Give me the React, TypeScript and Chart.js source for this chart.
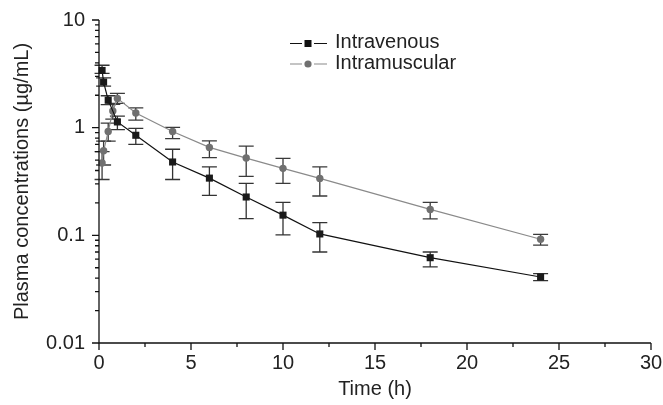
import React, { useEffect, useRef } from "react";
import { Chart, registerables } from "chart.js";

Chart.register(...registerables);

// ---- Data ----
const timeIV = [0.167, 0.25, 0.5, 1, 2, 4, 6, 8, 10, 12, 18, 24];
const ivMean = [3.4, 2.65, 1.8, 1.13, 0.85, 0.48, 0.34, 0.227, 0.154, 0.103, 0.062, 0.041];
const ivLow = [3.2, 2.43, 1.64, 0.96, 0.7, 0.33, 0.235, 0.143, 0.101, 0.07, 0.051, 0.038];
const ivHigh = [3.8, 2.9, 1.98, 1.28, 0.985, 0.63, 0.433, 0.304, 0.202, 0.131, 0.07, 0.044];

const timeIM = [0.167, 0.25, 0.5, 0.75, 1, 2, 4, 6, 8, 10, 12, 18, 24];
const imMean = [0.47, 0.61, 0.92, 1.43, 1.87, 1.37, 0.92, 0.656, 0.522, 0.419, 0.338, 0.174, 0.092];
const imLow = [0.33, 0.45, 0.75, 1.2, 1.68, 1.175, 0.79, 0.526, 0.353, 0.304, 0.232, 0.142, 0.081];
const imHigh = [0.6, 0.75, 1.1, 1.65, 2.08, 1.53, 1.007, 0.755, 0.675, 0.519, 0.433, 0.202, 0.102];

const xTicks = [0, 5, 10, 15, 20, 25, 30];
const xMinorTicks = [2.5, 7.5, 12.5, 17.5, 22.5, 27.5];
const yTicks = [0.01, 0.1, 1, 10];

const seriesNames = ["Intravenous", "Intramuscular"];

const FONT = "'Liberation Sans', Arial, Helvetica, sans-serif";
const TEXT = "#222";

const errorBars = [
  { t: timeIV, lo: ivLow, hi: ivHigh, color: "#333" },
  { t: timeIM, lo: imLow, hi: imHigh, color: "#3a3a3a" },
];

const customPlugin = {
  id: "customDecor",
  beforeDatasetsDraw(chart: any) {
    const ctx = chart.ctx;
    const xs = chart.scales.x;
    const ys = chart.scales.y;
    ctx.save();
    ctx.lineWidth = 1.3;
    for (const eb of errorBars) {
      ctx.strokeStyle = eb.color;
      eb.t.forEach((t: number, i: number) => {
        const px = xs.getPixelForValue(t);
        const pLo = ys.getPixelForValue(eb.lo[i]);
        const pHi = ys.getPixelForValue(eb.hi[i]);
        ctx.beginPath();
        ctx.moveTo(px, pLo);
        ctx.lineTo(px, pHi);
        ctx.moveTo(px - 7.5, pLo);
        ctx.lineTo(px + 7.5, pLo);
        ctx.moveTo(px - 7.5, pHi);
        ctx.lineTo(px + 7.5, pHi);
        ctx.stroke();
      });
    }
    ctx.restore();
  },
  afterDraw(chart: any) {
    const ctx = chart.ctx;
    const { left, right, top, bottom } = chart.chartArea;
    const xs = chart.scales.x;
    const ys = chart.scales.y;
    ctx.save();
    ctx.strokeStyle = "#111";
    ctx.lineWidth = 1.3;
    // axis lines
    ctx.beginPath();
    ctx.moveTo(left, top);
    ctx.lineTo(left, bottom);
    ctx.lineTo(right, bottom);
    ctx.stroke();
    // x ticks
    ctx.beginPath();
    for (const v of xTicks) {
      const px = xs.getPixelForValue(v);
      ctx.moveTo(px, bottom);
      ctx.lineTo(px, bottom + 7);
    }
    for (const v of xMinorTicks) {
      const px = xs.getPixelForValue(v);
      ctx.moveTo(px, bottom);
      ctx.lineTo(px, bottom + 4);
    }
    // y ticks
    for (const v of yTicks) {
      const py = ys.getPixelForValue(v);
      ctx.moveTo(left, py);
      ctx.lineTo(left - 7, py);
    }
    for (let d = 0; d < yTicks.length - 1; d++) {
      for (let m = 2; m <= 9; m++) {
        const py = ys.getPixelForValue(yTicks[d] * m);
        ctx.moveTo(left, py);
        ctx.lineTo(left - 4, py);
      }
    }
    ctx.stroke();

    // legend
    const rows = [
      { y: 43.5, color: "#111", line: "#111", shape: "rect" },
      { y: 64, color: "#707070", line: "#8a8a8a", shape: "circle" },
    ];
    rows.forEach((r, i) => {
      ctx.strokeStyle = r.line;
      ctx.lineWidth = 1.2;
      ctx.beginPath();
      ctx.moveTo(290, r.y);
      ctx.lineTo(302, r.y);
      ctx.moveTo(314, r.y);
      ctx.lineTo(327, r.y);
      ctx.stroke();
      ctx.fillStyle = r.color;
      if (r.shape === "rect") {
        ctx.fillRect(308 - 3.5, r.y - 3.5, 7, 7);
      } else {
        ctx.beginPath();
        ctx.arc(308, r.y, 3.6, 0, Math.PI * 2);
        ctx.fill();
      }
      ctx.fillStyle = TEXT;
      ctx.font = `20px ${FONT}`;
      ctx.textAlign = "left";
      ctx.textBaseline = "middle";
      ctx.fillText(seriesNames[i], 335, r.y - 1);
    });
    ctx.restore();
  },
};

export default function App() {
  const ref = useRef<HTMLCanvasElement | null>(null);

  useEffect(() => {
    document.body.style.margin = "0";
    const canvas = ref.current;
    if (!canvas) return;
    const chart = new Chart(canvas, {
      type: "scatter",
      data: {
        datasets: [
          {
            label: seriesNames[0],
            data: timeIV.map((t, i) => ({ x: t, y: ivMean[i] })),
            showLine: true,
            borderColor: "#111",
            borderWidth: 1.2,
            backgroundColor: "#1a1a1a",
            pointBackgroundColor: "#1a1a1a",
            pointBorderColor: "#1a1a1a",
            pointBorderWidth: 0,
            pointStyle: "rect",
            pointRadius: 5,
            clip: false,
          },
          {
            label: seriesNames[1],
            data: timeIM.map((t, i) => ({ x: t, y: imMean[i] })),
            showLine: true,
            borderColor: "#8a8a8a",
            borderWidth: 1.2,
            backgroundColor: "#707070",
            pointBackgroundColor: "#707070",
            pointBorderColor: "#707070",
            pointBorderWidth: 0,
            pointStyle: "circle",
            pointRadius: 3.7,
            clip: false,
          },
        ],
      },
      options: {
        responsive: false,
        animation: false,
        layout: { padding: { left: 0, right: 12, top: 20, bottom: 0 } },
        plugins: { legend: { display: false }, tooltip: { enabled: false } },
        scales: {
          x: {
            type: "linear",
            min: 0,
            max: 30,
            grid: { display: false, drawTicks: false },
            border: { display: false },
            afterBuildTicks: (scale: any) => {
              scale.ticks = xTicks.map((v) => ({ value: v }));
            },
            afterFit: (scale: any) => {
              scale.height = 62;
              scale.paddingLeft = 0;
              scale.paddingRight = 0;
            },
            ticks: {
              color: TEXT,
              font: { family: FONT, size: 20 },
              padding: 8,
              maxRotation: 0,
              autoSkip: false,
              callback: (v: any) => String(v),
            },
            title: {
              display: true,
              text: "Time (h)",
              color: TEXT,
              font: { family: FONT, size: 20 },
              padding: { top: 0, bottom: 4 },
            },
          },
          y: {
            type: "logarithmic",
            min: 0.01,
            max: 10,
            grid: { display: false, drawTicks: false },
            border: { display: false },
            afterBuildTicks: (scale: any) => {
              scale.ticks = yTicks.map((v) => ({ value: v }));
            },
            afterFit: (scale: any) => {
              scale.width = 99;
              scale.paddingTop = 0;
              scale.paddingBottom = 0;
            },
            ticks: {
              color: TEXT,
              font: { family: FONT, size: 20 },
              padding: 14,
              autoSkip: false,
              callback: (v: any) => String(v),
            },
            title: {
              display: true,
              text: "Plasma concentrations (µg/mL)",
              color: TEXT,
              font: { family: FONT, size: 20 },
              padding: { top: 10, bottom: 0 },
            },
          },
        },
      },
      plugins: [customPlugin],
    } as any);
    return () => chart.destroy();
  }, []);

  return (
    <div style={{ width: 663, height: 405 }}>
      <canvas ref={ref} width={663} height={405} style={{ width: 663, height: 405, display: "block" }} />
    </div>
  );
}
